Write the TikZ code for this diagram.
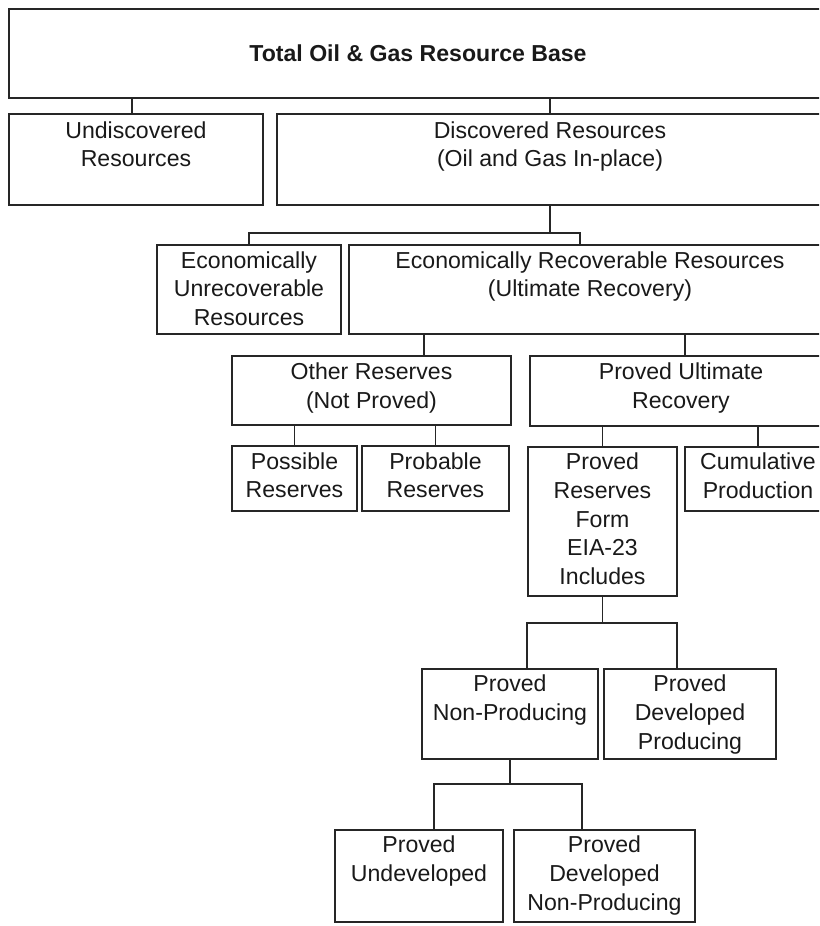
\documentclass[tikz,border=0pt]{standalone}
\usepackage{fontspec}
\setmainfont{Liberation Sans}
\usetikzlibrary{positioning}

\begin{document}
\begin{tikzpicture}[x=1pt,y=-1pt,line width=1.5pt,
  box/.style={draw=black!85,rectangle,inner sep=0pt},
  txt/.style={font=\fontsize{23.1}{28.7}\selectfont,align=center,inner sep=0pt,text=black!90}]
\useasboundingbox (0,0) rectangle (819,926);
\clip (0,0) rectangle (819,926);
% boxes
\node[box,minimum width=818pt,minimum height=89pt] (total) at (418,53.5) {};
\node[box,minimum width=254pt,minimum height=91pt] (undisc) at (136,159.5) {};
\node[box,minimum width=546pt,minimum height=91pt] (disc) at (550,159.5) {};
\node[box,minimum width=184pt,minimum height=89pt] (unrecov) at (249,289.5) {};
\node[box,minimum width=482pt,minimum height=89pt] (recov) at (590,289.5) {};
\node[box,minimum width=279pt,minimum height=69pt] (other) at (371.5,390.5) {};
\node[box,minimum width=302pt,minimum height=70pt] (pur) at (681,391) {};
\node[box,minimum width=125pt,minimum height=65pt] (possible) at (294.5,478.5) {};
\node[box,minimum width=147pt,minimum height=65pt] (probable) at (435.5,478.5) {};
\node[box,minimum width=149pt,minimum height=149pt] (provres) at (602.5,521.5) {};
\node[box,minimum width=146pt,minimum height=64pt] (cumul) at (758,479) {};
\node[box,minimum width=176pt,minimum height=90pt] (pnp) at (510,714) {};
\node[box,minimum width=172pt,minimum height=90pt] (pdp) at (690,714) {};
\node[box,minimum width=168pt,minimum height=92pt] (pu) at (419,876) {};
\node[box,minimum width=181pt,minimum height=92pt] (pdnp) at (604.5,876) {};
% labels
\node[txt,font=\fontsize{23.1}{28.7}\selectfont\bfseries] (total-t) at (total) {Total Oil \& Gas Resource Base};
\node[txt,below=7.5pt of undisc.north] (undisc-t) {Undiscovered\\Resources};
\node[txt,below=7.5pt of disc.north] (disc-t) {Discovered Resources\\(Oil and Gas In-place)};
\node[txt,below=6.5pt of unrecov.north] (unrecov-t) {Economically\\Unrecoverable\\Resources};
\node[txt,below=6.5pt of recov.north] (recov-t) {Economically Recoverable Resources\\(Ultimate Recovery)};
\node[txt,below=7pt of other.north] (other-t) {Other Reserves\\(Not Proved)};
\node[txt,below=7pt of pur.north] (pur-t) {Proved Ultimate\\Recovery};
\node[txt,below=6.5pt of possible.north] (possible-t) {Possible\\Reserves};
\node[txt,below=6.5pt of probable.north] (probable-t) {Probable\\Reserves};
\node[txt,below=6pt of provres.north] (provres-t) {Proved\\Reserves\\Form\\EIA-23\\Includes};
\node[txt,below=6pt of cumul.north] (cumul-t) {Cumulative\\Production};
\node[txt,below=6pt of pnp.north] (pnp-t) {Proved\\Non-Producing};
\node[txt,below=6pt of pdp.north] (pdp-t) {Proved\\Developed\\Producing};
\node[txt,below=6pt of pu.north] (pu-t) {Proved\\Undeveloped};
\node[txt,below=6pt of pdnp.north] (pdnp-t) {Proved\\Developed\\Non-Producing};
% connectors
\begin{scope}[draw=black!85]
\draw ([xshift=-4pt]undisc.north) -- +(0,-16);
\draw (disc.north) -- +(0,-16);
\draw (disc.south) -- +(0,27) coordinate (j1);
\draw (unrecov.north) |- (j1) -| ([xshift=-10pt]recov.north);
\draw ([xshift=52.5pt]other.north) -- +(0,-22);
\draw ([xshift=4pt]pur.north) -- +(0,-22);
\draw (possible.north) -- +(0,-21);
\draw (probable.north) -- +(0,-21);
\draw (provres.north) -- +(0,-21);
\draw (cumul.north) -- +(0,-21);
\draw (provres.south) -- +(0,26) coordinate (j2);
\draw ([xshift=17pt]pnp.north) |- (j2) -| ([xshift=-13pt]pdp.north);
\draw (pnp.south) -- +(0,24) coordinate (j3);
\draw ([xshift=15pt]pu.north) |- (j3) -| ([xshift=-22.5pt]pdnp.north);
\end{scope}
\end{tikzpicture}
\end{document}
